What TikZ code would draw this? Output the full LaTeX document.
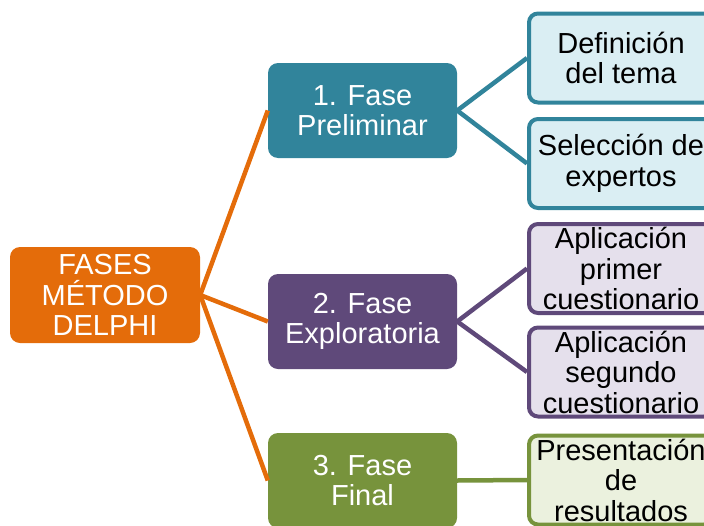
\documentclass[tikz,border=0pt]{standalone}
\usepackage{fontspec}
\setmainfont{Liberation Sans}
\definecolor{cOr}{HTML}{E46C0A}
\definecolor{cTe}{HTML}{31849B}
\definecolor{cPu}{HTML}{5F497A}
\definecolor{cGr}{HTML}{77933C}
\definecolor{lTe}{HTML}{DAEEF3}
\definecolor{lPu}{HTML}{E5E0EC}
\definecolor{lGr}{HTML}{EBF1DE}
\begin{document}
\begin{tikzpicture}[x=1pt,y=-1pt,
  txt/.style={font=\fontsize{29}{30.5}\selectfont, align=center, inner sep=0pt},
  mainbox/.style={txt, rounded corners=10pt, minimum width=189pt, minimum height=95pt, text=white},
  leafbox/.style={txt, rounded corners=9pt, line width=4pt, minimum width=184pt, minimum height=89pt, text=black},
  link/.style={line width=4.5pt}
]
\useasboundingbox (0,0) rectangle (704,525);
\node[mainbox, fill=cOr, minimum width=190pt, minimum height=96pt] (root) at (105,295) {FASES\\MÉTODO\\DELPHI};
\node[mainbox, fill=cTe] (p1) at (362.5,110.5) {1. Fase\\Preliminar};
\node[mainbox, fill=cPu] (p2) at (362.5,321.5) {2. Fase\\Exploratoria};
\node[mainbox, fill=cGr] (p3) at (362.5,480.5) {3. Fase\\Final};
\node[leafbox, draw=cTe, fill=lTe] (l1) at (621,58) {Definición\\del tema};
\node[leafbox, draw=cTe, fill=lTe] (l2) at (621,163.5) {Selección de\\expertos};
\node[leafbox, draw=cPu, fill=lPu] (l3) at (621,268.5) {Aplicación\\primer\\cuestionario};
\node[leafbox, draw=cPu, fill=lPu] (l4) at (621,372) {Aplicación\\segundo\\cuestionario};
\node[leafbox, draw=cGr, fill=lGr] (l5) at (621,480) {Presentación\\de\\resultados};
\draw[link, cOr] (root.east) -- (p1.west);
\draw[link, cOr] (root.east) -- (p2.west);
\draw[link, cOr] (root.east) -- (p3.west);
\draw[link, cTe] (p1.east) -- (l1.west);
\draw[link, cTe] (p1.east) -- (l2.west);
\draw[link, cPu] (p2.east) -- (l3.west);
\draw[link, cPu] (p2.east) -- (l4.west);
\draw[link, cGr] (p3.east) -- (l5.west);
\end{tikzpicture}
\end{document}
